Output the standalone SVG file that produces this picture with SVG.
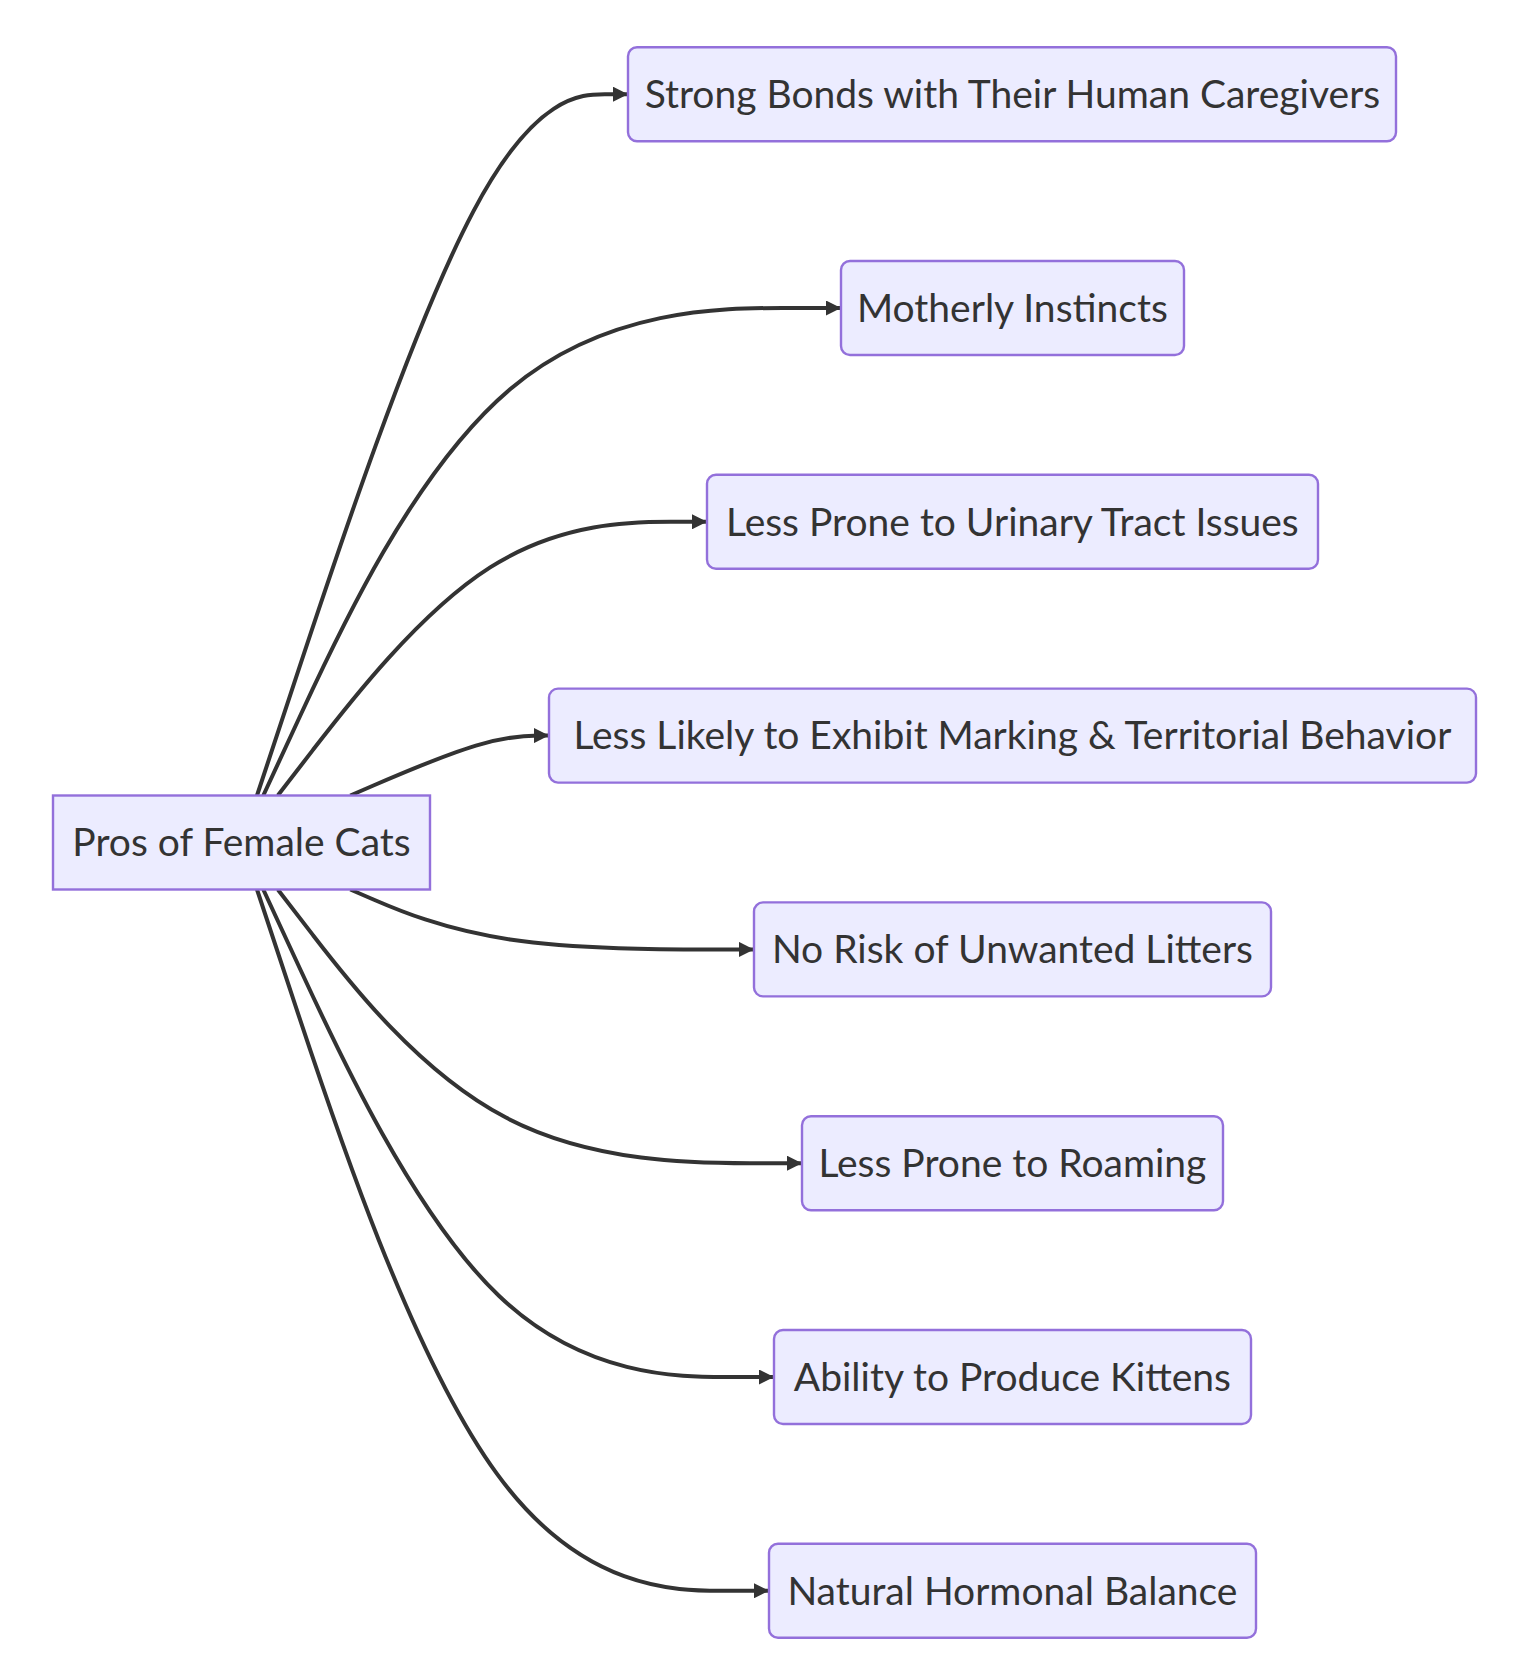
<svg xmlns="http://www.w3.org/2000/svg" width="1526" height="1667" viewBox="0 0 1526 1667">
<style>
.node rect{fill:#ECECFF;stroke:#9370DB;stroke-width:2.4}
.node text{font-family:Lato,"Open Sans",sans-serif;font-size:39px;fill:#333;text-anchor:middle}
.edge{fill:none;stroke:#333333;stroke-width:4}
</style>
<defs>
<marker id="arrow" viewBox="0 0 10 10" refX="10" refY="5" markerUnits="userSpaceOnUse" markerWidth="15" markerHeight="15" orient="auto">
<path d="M0,0 L10,5 L0,10 z" fill="#333333"/>
</marker>
</defs>
<rect width="1526" height="1667" fill="#ffffff"/>
<g id="connectors">
<path class="edge" marker-end="url(#arrow)" d="M257,795.5 L295.67,678.62 C334.33,561.73 411.67,327.97 473.5,211.08 C535.33,94.2 581.67,94.2 604.83,94.2 L628,94.2"/>
<path class="edge" marker-end="url(#arrow)" d="M263.3,795.5 L300.92,714.25 C338.53,633 413.77,470.5 510.05,389.25 C606.33,308 723.67,308 782.33,308 L841,308"/>
<path class="edge" marker-end="url(#arrow)" d="M277.8,795.5 L313,749.88 C348.2,704.27 418.6,613.03 490.13,567.42 C561.67,521.8 634.33,521.8 670.67,521.8 L707,521.8"/>
<path class="edge" marker-end="url(#arrow)" d="M350.3,795.5 L373.42,785.52 C396.53,775.53 442.77,755.57 475.88,745.58 C509,735.6 529,735.6 539,735.6 L549,735.6"/>
<path class="edge" marker-end="url(#arrow)" d="M350.3,889.5 L373.42,899.48 C396.53,909.47 442.77,929.43 510.05,939.42 C577.33,949.4 665.67,949.4 709.83,949.4 L754,949.4"/>
<path class="edge" marker-end="url(#arrow)" d="M277.8,889.5 L313,935.12 C348.2,980.73 418.6,1071.97 505.97,1117.58 C593.33,1163.2 697.67,1163.2 749.83,1163.2 L802,1163.2"/>
<path class="edge" marker-end="url(#arrow)" d="M263.3,889.5 L300.92,970.75 C338.53,1052 413.77,1214.5 498.88,1295.75 C584,1377 679,1377 726.5,1377 L774,1377"/>
<path class="edge" marker-end="url(#arrow)" d="M257,889.5 L295.67,1006.38 C334.33,1123.27 411.67,1357.03 497,1473.92 C582.33,1590.8 675.67,1590.8 722.33,1590.8 L769,1590.8"/>
</g>
<g id="root" class="node"><rect x="53" y="795.5" width="377" height="94"/><text x="241.5" y="855.5">Pros of Female Cats</text></g>
<g id="n1" class="node"><rect x="628" y="47.2" width="768" height="94" rx="9"/><text x="1012.4" y="107.5">Strong Bonds with Their Human Caregivers</text></g>
<g id="n2" class="node"><rect x="841" y="261" width="343" height="94" rx="9"/><text x="1012.4" y="321.5">Motherly Instincts</text></g>
<g id="n3" class="node"><rect x="707" y="474.8" width="611" height="94" rx="9"/><text x="1012.4" y="535.5">Less Prone to Urinary Tract Issues</text></g>
<g id="n4" class="node"><rect x="549" y="688.6" width="927" height="94" rx="9"/><text x="1012.4" y="748.5">Less Likely to Exhibit Marking &amp; Territorial Behavior</text></g>
<g id="n5" class="node"><rect x="754" y="902.4" width="517" height="94" rx="9"/><text x="1012.4" y="962.5">No Risk of Unwanted Litters</text></g>
<g id="n6" class="node"><rect x="802" y="1116.2" width="421" height="94" rx="9"/><text x="1012.4" y="1176.5">Less Prone to Roaming</text></g>
<g id="n7" class="node"><rect x="774" y="1330" width="477" height="94" rx="9"/><text x="1012.4" y="1390.5">Ability to Produce Kittens</text></g>
<g id="n8" class="node"><rect x="769" y="1543.8" width="487" height="94" rx="9"/><text x="1012.4" y="1604.5">Natural Hormonal Balance</text></g>
</svg>
